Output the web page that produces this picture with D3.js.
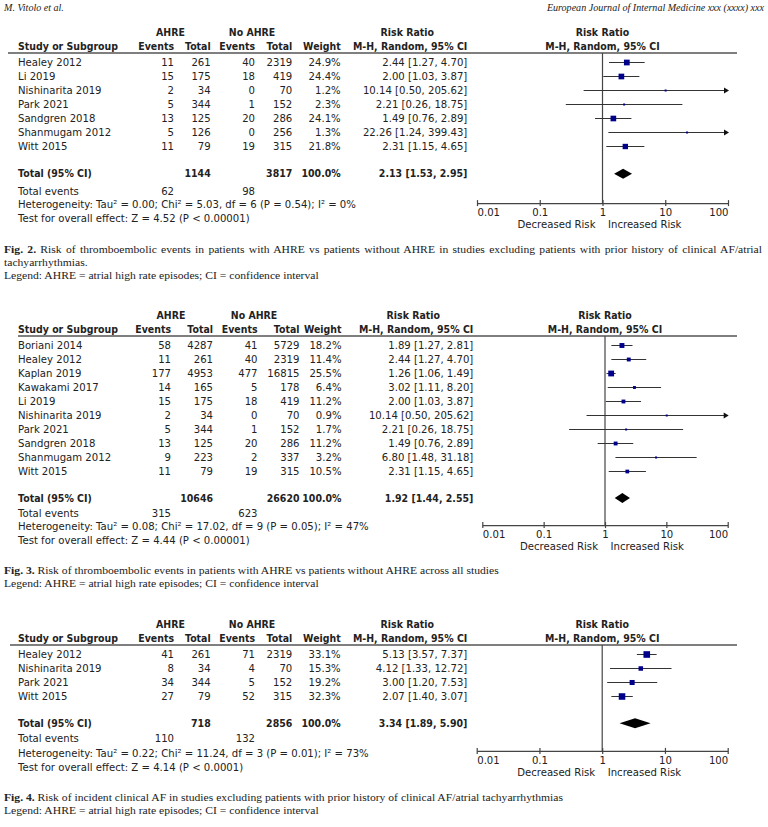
<!DOCTYPE html>
<html><head><meta charset="utf-8">
<script src="https://cdn.jsdelivr.net/npm/d3@7"></script>
<style>body{margin:0;background:#fff}svg{display:block}</style>
</head><body>
<svg id="c" width="768" height="827"></svg>
<script>
// ================= DATA =================
// Fig. 2
const fig2Studies = ["Healey 2012","Li 2019","Nishinarita 2019","Park 2021","Sandgren 2018","Shanmugam 2012","Witt 2015"];
const fig2AhreEvents = [11,15,2,5,13,5,11];
const fig2AhreTotal = [261,175,34,344,125,126,79];
const fig2NoEvents = [40,18,0,1,20,0,19];
const fig2NoTotal = [2319,419,70,152,286,256,315];
const fig2Weight = [24.9,24.4,1.2,2.3,24.1,1.3,21.8];
const fig2RR = [2.44,2.00,10.14,2.21,1.49,22.26,2.31];
const fig2Lower = [1.27,1.03,0.50,0.26,0.76,1.24,1.15];
const fig2Upper = [4.70,3.87,205.62,18.75,2.89,399.43,4.65];
const fig2Totals = [1144,3817];
const fig2TotalEvents = [62,98];
const fig2Pooled = [2.13,1.53,2.95];
const fig2Heterogeneity = "Heterogeneity: Tau² = 0.00; Chi² = 5.03, df = 6 (P = 0.54); I² = 0%";
const fig2Overall = "Test for overall effect: Z = 4.52 (P < 0.00001)";

// Fig. 3
const fig3Studies = ["Boriani 2014","Healey 2012","Kaplan 2019","Kawakami 2017","Li 2019","Nishinarita 2019","Park 2021","Sandgren 2018","Shanmugam 2012","Witt 2015"];
const fig3AhreEvents = [58,11,177,14,15,2,5,13,9,11];
const fig3AhreTotal = [4287,261,4953,165,175,34,344,125,223,79];
const fig3NoEvents = [41,40,477,5,18,0,1,20,2,19];
const fig3NoTotal = [5729,2319,16815,178,419,70,152,286,337,315];
const fig3Weight = [18.2,11.4,25.5,6.4,11.2,0.9,1.7,11.2,3.2,10.5];
const fig3RR = [1.89,2.44,1.26,3.02,2.00,10.14,2.21,1.49,6.80,2.31];
const fig3Lower = [1.27,1.27,1.06,1.11,1.03,0.50,0.26,0.76,1.48,1.15];
const fig3Upper = [2.81,4.70,1.49,8.20,3.87,205.62,18.75,2.89,31.18,4.65];
const fig3Totals = [10646,26620];
const fig3TotalEvents = [315,623];
const fig3Pooled = [1.92,1.44,2.55];
const fig3Heterogeneity = "Heterogeneity: Tau² = 0.08; Chi² = 17.02, df = 9 (P = 0.05); I² = 47%";
const fig3Overall = "Test for overall effect: Z = 4.44 (P < 0.00001)";

// Fig. 4
const fig4Studies = ["Healey 2012","Nishinarita 2019","Park 2021","Witt 2015"];
const fig4AhreEvents = [41,8,34,27];
const fig4AhreTotal = [261,34,344,79];
const fig4NoEvents = [71,4,5,52];
const fig4NoTotal = [2319,70,152,315];
const fig4Weight = [33.1,15.3,19.2,32.3];
const fig4RR = [5.13,4.12,3.00,2.07];
const fig4Lower = [3.57,1.33,1.20,1.40];
const fig4Upper = [7.37,12.72,7.53,3.07];
const fig4Totals = [718,2856];
const fig4TotalEvents = [110,132];
const fig4Pooled = [3.34,1.89,5.90];
const fig4Heterogeneity = "Heterogeneity: Tau² = 0.22; Chi² = 11.24, df = 3 (P = 0.01); I² = 73%";
const fig4Overall = "Test for overall effect: Z = 4.14 (P < 0.0001)";

// Axis
const axisTicks = [0.01,0.1,1,10,100];
const axisTickLabels = ["0.01","0.1","1","10","100"];

// Captions / page text
const pageHeaderLeft = "M. Vitolo et al.";
const pageHeaderRight = "European Journal of Internal Medicine xxx (xxxx) xxx";
const legendText = "Legend: AHRE = atrial high rate episodes; CI = confidence interval";
const fig2Caption = ["Fig. 2.", " Risk of thromboembolic events in patients with AHRE vs patients without AHRE in studies excluding patients with prior history of clinical AF/atrial", "tachyarrhythmias."];
const fig3Caption = ["Fig. 3.", " Risk of thromboembolic events in patients with AHRE vs patients without AHRE across all studies"];
const fig4Caption = ["Fig. 4.", " Risk of incident clinical AF in studies excluding patients with prior history of clinical AF/atrial tachyarrhythmias"];

// ================= RENDER =================
const svg = d3.select("#c");
svg.append("rect").attr("width",768).attr("height",827).attr("fill","#fff");

const SANS = "'DejaVu Sans', sans-serif";
const SERIF = "'Liberation Serif', 'DejaVu Serif', serif";
const TXT = "#222";

function measure(str, font, size, weight, style){
  const t = svg.append("text").attr("font-family",font).attr("font-size",size)
    .attr("font-weight",weight||"normal").attr("font-style",style||"normal").text(str);
  const w = t.node().getComputedTextLength(); t.remove(); return w;
}
// Table text: 10.5px glyph height, horizontally condensed to fit reference widths
const TFS = 10.5;
const tSX = 232 / measure(fig2Overall, SANS, TFS);
const tSXb = tSX * 0.93;
// Caption text: serif, condensed
const CFS = 11;
const cSX = 315 / measure(legendText, SERIF, CFS);

function txt(g, x, y, s, anchor, bold){
  return g.append("text")
    .attr("transform",`translate(${x},${y}) scale(${bold ? tSXb : tSX},1)`)
    .attr("dy","0.35em")
    .attr("text-anchor",anchor||"start").attr("font-family",SANS)
    .attr("font-size",TFS).attr("font-weight",bold?"bold":"normal")
    .attr("fill",TXT).text(s);
}
const fmt2 = d3.format(".2f");
const fmt1 = d3.format(".1f");

const panels = [
  {studies:fig2Studies, ae:fig2AhreEvents, at:fig2AhreTotal, ne:fig2NoEvents, nt:fig2NoTotal, w:fig2Weight,
   rr:fig2RR, lo:fig2Lower, hi:fig2Upper, totals:fig2Totals, tev:fig2TotalEvents, pooled:fig2Pooled,
   het:fig2Heterogeneity, test:fig2Overall,
   L:{top:32, lineX0:8, e1:174, t1:210.7, e2:255, t2:292.3, wt:340.7, rrx:467.3, ahreX:170.5, noX:252,
      x0:477, x1:728, totGap:27.3, teGap:17.5, hetGap:13.5, testGap:14, axisGap:29.3}},
  {studies:fig3Studies, ae:fig3AhreEvents, at:fig3AhreTotal, ne:fig3NoEvents, nt:fig3NoTotal, w:fig3Weight,
   rr:fig3RR, lo:fig3Lower, hi:fig3Upper, totals:fig3Totals, tev:fig3TotalEvents, pooled:fig3Pooled,
   het:fig3Heterogeneity, test:fig3Overall,
   L:{top:315, lineX0:18, e1:171, t1:213, e2:257.5, t2:299.5, wt:341.5, rrx:473.3, ahreX:171, noX:254,
      x0:482.3, x1:727.7, totGap:26.6, teGap:15.2, hetGap:13.5, testGap:13.6, axisGap:27}},
  {studies:fig4Studies, ae:fig4AhreEvents, at:fig4AhreTotal, ne:fig4NoEvents, nt:fig4NoTotal, w:fig4Weight,
   rr:fig4RR, lo:fig4Lower, hi:fig4Upper, totals:fig4Totals, tev:fig4TotalEvents, pooled:fig4Pooled,
   het:fig4Heterogeneity, test:fig4Overall,
   L:{top:624, lineX0:10, e1:174, t1:210.7, e2:255, t2:292.3, wt:340.7, rrx:467.3, ahreX:170.5, noX:252,
      x0:476.7, x1:727.7, totGap:26.7, teGap:15.3, hetGap:15.2, testGap:13.5, axisGap:27.7}}
];

panels.forEach(p => {
  const L = p.L;
  const g = svg.append("g");
  const x = d3.scaleLog().domain([0.01,100]).range([L.x0, L.x1]);
  const x1v = x(1);
  const yH1 = L.top, yH2 = L.top + 14, yLine = L.top + 21;
  const rowY = i => L.top + 30.5 + i * 14;
  const n = p.studies.length;
  const yTot = rowY(n-1) + L.totGap;
  const yTE = yTot + L.teGap, yHet = yTE + L.hetGap, yTest = yHet + L.testGap;
  const yAxis = yTot + L.axisGap;

  txt(g, L.ahreX, yH1, "AHRE", "middle", true);
  txt(g, L.noX, yH1, "No AHRE", "middle", true);
  txt(g, L.rrx - 60, yH1, "Risk Ratio", "middle", true);
  txt(g, x1v, yH1, "Risk Ratio", "middle", true);
  txt(g, 18, yH2, "Study or Subgroup", "start", true);
  txt(g, L.e1, yH2, "Events", "end", true);
  txt(g, L.t1, yH2, "Total", "end", true);
  txt(g, L.e2, yH2, "Events", "end", true);
  txt(g, L.t2, yH2, "Total", "end", true);
  txt(g, L.wt, yH2, "Weight", "end", true);
  txt(g, L.rrx, yH2, "M-H, Random, 95% CI", "end", true);
  txt(g, x1v, yH2, "M-H, Random, 95% CI", "middle", true);
  g.append("line").attr("x1",L.lineX0).attr("x2",737).attr("y1",yLine).attr("y2",yLine)
    .attr("stroke","#555").attr("stroke-width",1.4);

  p.studies.forEach((s,i) => {
    const y = rowY(i);
    txt(g, 18, y, s);
    txt(g, L.e1, y, p.ae[i], "end");
    txt(g, L.t1, y, p.at[i], "end");
    txt(g, L.e2, y, p.ne[i], "end");
    txt(g, L.t2, y, p.nt[i], "end");
    txt(g, L.wt, y, fmt1(p.w[i]) + "%", "end");
    txt(g, L.rrx, y, `${fmt2(p.rr[i])} [${fmt2(p.lo[i])}, ${fmt2(p.hi[i])}]`, "end");
  });

  txt(g, 18, yTot, "Total (95% CI)", "start", true);
  txt(g, L.t1, yTot, p.totals[0], "end", true);
  txt(g, L.t2, yTot, p.totals[1], "end", true);
  txt(g, L.wt, yTot, "100.0%", "end", true);
  txt(g, L.rrx, yTot, `${fmt2(p.pooled[0])} [${fmt2(p.pooled[1])}, ${fmt2(p.pooled[2])}]`, "end", true);
  txt(g, 18, yTE, "Total events");
  txt(g, L.e1, yTE, p.tev[0], "end");
  txt(g, L.e2, yTE, p.tev[1], "end");
  txt(g, 18, yHet, p.het);
  txt(g, 18, yTest, p.test);

  g.append("line").attr("x1",x1v).attr("x2",x1v).attr("y1",yLine).attr("y2",yAxis)
    .attr("stroke","#444").attr("stroke-width",1.2);

  const clampX = v => x(Math.max(0.01, Math.min(100, v)));
  p.studies.forEach((s,i) => {
    const y = rowY(i);
    const xa = clampX(p.lo[i]), xb = clampX(p.hi[i]);
    g.append("line").attr("x1",xa).attr("x2",xb).attr("y1",y).attr("y2",y)
      .attr("stroke","#333").attr("stroke-width",1);
    if (p.hi[i] > 100) {
      g.append("path").attr("d",`M${L.x1+1},${y} L${L.x1-4},${y-3} L${L.x1-4},${y+3} Z`).attr("fill","#111");
    }
    if (p.lo[i] < 0.01) {
      g.append("path").attr("d",`M${L.x0-1},${y} L${L.x0+4},${y-3} L${L.x0+4},${y+3} Z`).attr("fill","#111");
    }
    const sz = Math.max(2, 1.15 * Math.sqrt(p.w[i]));
    g.append("rect").attr("x",x(p.rr[i]) - sz/2).attr("y",y - sz/2).attr("width",sz).attr("height",sz)
      .attr("fill","#00008b");
  });

  const [pr, pl, ph] = p.pooled;
  g.append("path").attr("d",`M${x(pl)},${yTot} L${x(pr)},${yTot-5} L${x(ph)},${yTot} L${x(pr)},${yTot+5} Z`)
    .attr("fill","#000");

  const ax = g.append("g").attr("transform",`translate(0,${yAxis})`)
    .call(d3.axisBottom(x).tickValues(axisTicks).tickFormat((d,i)=>axisTickLabels[i]).tickSizeInner(3).tickSizeOuter(0).tickPadding(3));
  ax.select(".domain").attr("stroke","#444").attr("stroke-width",1.2);
  ax.selectAll(".tick line").attr("y1",-3).attr("y2",3).attr("stroke","#444").attr("stroke-width",1.2);
  ax.selectAll(".tick text").attr("font-family",SANS).attr("font-size",TFS).attr("fill",TXT)
    .attr("y",0).attr("dy","0.35em").attr("transform",`translate(0,9.5) scale(${tSX},1)`)
    .attr("text-anchor",(d,i)=> i===0 ? "start" : (i===axisTicks.length-1 ? "end" : "middle"));
  txt(g, x1v - 7, yAxis + 21, "Decreased Risk", "end");
  txt(g, x1v + 5.5, yAxis + 21, "Increased Risk", "start");
});

// ---- page header & captions ----
const HFS = 10;
const hSX = 60 / measure(pageHeaderLeft, SERIF, HFS, "normal", "italic");
svg.append("text").attr("transform",`translate(4,7) scale(${hSX},1)`).attr("dy","0.35em").attr("font-family",SERIF)
  .attr("font-style","italic").attr("font-size",HFS).attr("fill",TXT).text(pageHeaderLeft);
svg.append("text").attr("transform",`translate(764,7) scale(${hSX},1)`).attr("dy","0.35em").attr("text-anchor","end").attr("font-family",SERIF)
  .attr("font-style","italic").attr("font-size",HFS).attr("fill",TXT).text(pageHeaderRight);

function caption(y, parts, justifyTo){
  const t = svg.append("text").attr("transform",`translate(4,${y}) scale(${cSX},1)`).attr("dy","0.35em")
    .attr("font-family",SERIF).attr("font-size",CFS).attr("fill",TXT);
  t.append("tspan").attr("font-weight","bold").text(parts[0]);
  t.append("tspan").text(parts[1]);
  if (justifyTo) {
    const w = t.node().getComputedTextLength();
    const spaces = (parts[0] + parts[1]).split(" ").length - 1;
    t.attr("word-spacing", ((justifyTo - 4) / cSX - w) / spaces);
  }
  return t;
}
function plain(y, s){
  svg.append("text").attr("transform",`translate(4,${y}) scale(${cSX},1)`).attr("dy","0.35em")
    .attr("font-family",SERIF).attr("font-size",CFS).attr("fill",TXT).text(s);
}
caption(249, fig2Caption, 762);
plain(262, fig2Caption[2]);
plain(275, legendText);
caption(570, fig3Caption);
plain(583, legendText);
caption(796.7, fig4Caption);
plain(810, legendText);
</script>
</body></html>
